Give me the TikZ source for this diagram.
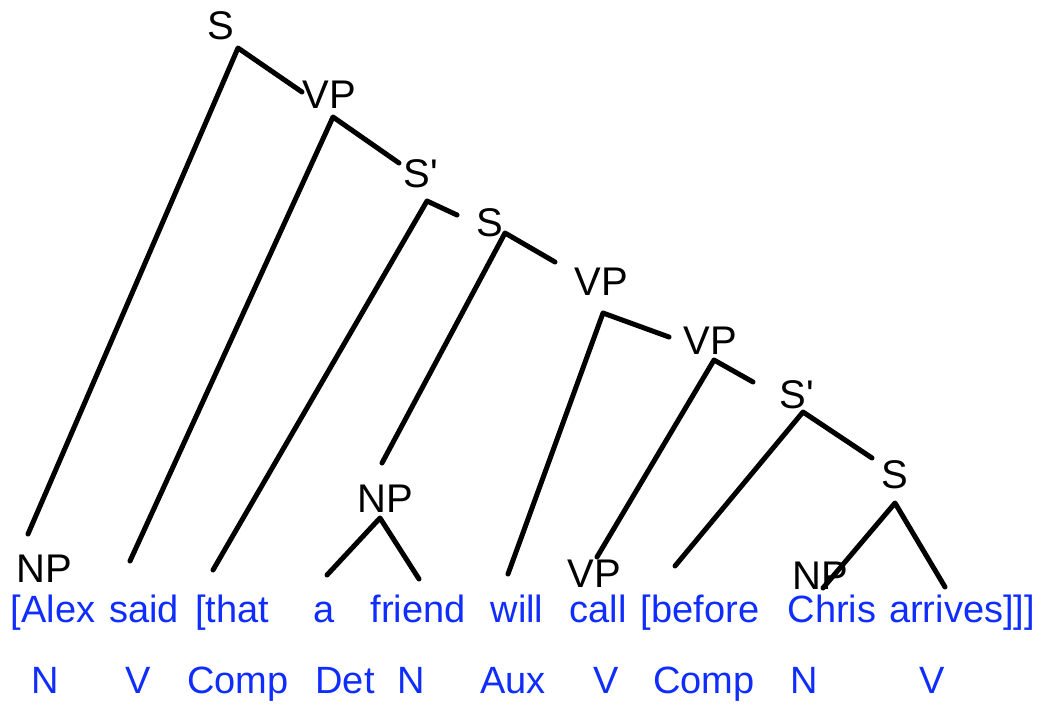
\documentclass[tikz,border=0pt]{standalone}
\usepackage{fontspec}
\setmainfont{Liberation Sans}[Ligatures=TeXOff]
\definecolor{wordblue}{RGB}{15,45,255}
\tikzset{
  cat/.style={anchor=base, inner sep=0pt, font=\fontsize{40}{48}\selectfont, text=black},
  word/.style={anchor=base, inner sep=0pt, font=\fontsize{38}{45}\selectfont, text=wordblue},
  poslabel/.style={anchor=base, inner sep=0pt, font=\fontsize{38}{45}\selectfont, text=wordblue},
  branch/.style={draw=black, line width=5pt, line cap=round, line join=round}
}
\begin{document}
\begin{tikzpicture}[x=1pt,y=-1pt]
\useasboundingbox (0,0) rectangle (1043,704);
% category labels
\node[cat] (S1) at (221,39) {S};
\node[cat] (VP1) at (329,108) {VP};
\node[cat] (Sb1) at (421,187) {S'};
\node[cat] (S2) at (490,236) {S};
\node[cat] (VP2) at (601,295) {VP};
\node[cat] (VP3) at (710,354) {VP};
\node[cat] (Sb2) at (797,408) {S'};
\node[cat] (S3) at (895,488) {S};
\node[cat] (NP2) at (385,512) {NP};
\node[cat] (NP1) at (44,582) {NP};
\node[cat] (VP4) at (594,587) {VP};
\node[cat] (NP3) at (820,589) {NP};
% words
\node[word] (w1) at (53,622) {[Alex};
\node[word] (w2) at (144,622) {said};
\node[word] (w3) at (232,622) {[that};
\node[word] (w4) at (324,622) {a};
\node[word] (w5) at (418,622) {friend};
\node[word] (w6) at (517,622) {will};
\node[word] (w7) at (598,622) {call};
\node[word] (w8) at (700,622) {[before};
\node[word] (w9) at (832,622) {Chris};
\node[word] (w10) at (962,622) {arrives]]]};
% parts of speech
\node[poslabel] (p1) at (45,693) {N};
\node[poslabel] (p2) at (138,693) {V};
\node[poslabel] (p3) at (238,693) {Comp};
\node[poslabel] (p4) at (345,693) {Det};
\node[poslabel] (p5) at (411,693) {N};
\node[poslabel] (p6) at (513,693) {Aux};
\node[poslabel] (p7) at (606,693) {V};
\node[poslabel] (p8) at (704,693) {Comp};
\node[poslabel] (p9) at (804,693) {N};
\node[poslabel] (p10) at (932,693) {V};
% branch points
\coordinate (aS1) at (238,48);
\coordinate (aVP1) at (333,117);
\coordinate (aSb1) at (427,201);
\coordinate (aS2) at (505,233);
\coordinate (aVP2) at (603,313);
\coordinate (aVP3) at (714,360);
\coordinate (aSb2) at (803,412);
\coordinate (aS3) at (895,503);
\coordinate (aNP2) at (380,518);
% branch ends
\coordinate (eNP1) at (28,534);
\coordinate (eVP1) at (302,92);
\coordinate (esaid) at (130,561);
\coordinate (eSb1) at (399,163);
\coordinate (ethat) at (213,570);
\coordinate (eS2) at (457,215);
\coordinate (eNP2) at (382,463);
\coordinate (eVP2) at (555,262);
\coordinate (ewill) at (508,574);
\coordinate (eVP3) at (669,337);
\coordinate (eVP4) at (597,557);
\coordinate (eSb2) at (753,382);
\coordinate (ebefore) at (675,566);
\coordinate (eS3) at (872,458);
\coordinate (eNP3) at (823,588);
\coordinate (earrives) at (945,587);
\coordinate (ea) at (327,575);
\coordinate (efriend) at (419,579);
% branches
\draw[branch] (eNP1) -- (aS1) -- (eVP1);
\draw[branch] (esaid) -- (aVP1) -- (eSb1);
\draw[branch] (ethat) -- (aSb1) -- (eS2);
\draw[branch] (eNP2) -- (aS2) -- (eVP2);
\draw[branch] (ewill) -- (aVP2) -- (eVP3);
\draw[branch] (eVP4) -- (aVP3) -- (eSb2);
\draw[branch] (ebefore) -- (aSb2) -- (eS3);
\draw[branch] (eNP3) -- (aS3) -- (earrives);
\draw[branch] (ea) -- (aNP2) -- (efriend);
\end{tikzpicture}
\end{document}
